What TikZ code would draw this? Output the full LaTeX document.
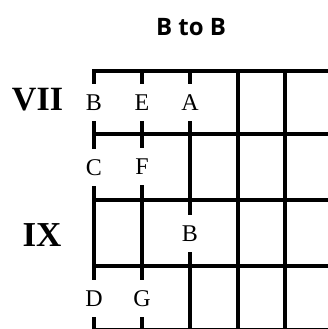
\documentclass[tikz,border=0pt]{standalone}
\usepackage{fontspec}
\setmainfont{Liberation Serif}
\newfontfamily\titlefont{Open Sans}
\begin{document}
\begin{tikzpicture}[x=1pt,y=-1pt,
  gridline/.style={line width=4pt},
  lbl/.style={fill=white,inner sep=0pt,minimum height=37pt,minimum width=14pt,font=\fontsize{24}{24}\selectfont,text height=16pt,text depth=0pt},
  roman/.style={font=\fontsize{34}{34}\selectfont\bfseries,inner sep=0pt}]
\useasboundingbox (0,0) rectangle (328,329);
% horizontal lines
\foreach \y/\n in {71/h1,134/h2,200/h3,266/h4,330.3/h5}{
  \coordinate (\n l) at (92,\y);
  \coordinate (\n r) at (330,\y);
  \draw[gridline] (\n l) -- (\n r);
}
% vertical lines
\foreach \x/\n in {94/v1,142/v2,190/v3,238/v4,285/v5}{
  \coordinate (\n t) at (\x,69);
  \coordinate (\n b) at (\x,332);
  \draw[gridline] (\n t) -- (\n b);
}
% labels
\node[lbl] (lB1) at (94,102) {B};
\node[lbl] (lE) at (142,102) {E};
\node[lbl] (lA) at (190,102) {A};
\node[lbl] (lC) at (94,167) {C};
\node[lbl] (lF) at (142,166) {F};
\node[lbl] (lB2) at (190,233) {B};
\node[lbl] (lD) at (94,298) {D};
\node[lbl] (lG) at (142,298) {G};
% row names
\node[roman] (vii) at (37.5,100) {VII};
\node[roman,font=\fontsize{35}{35}\selectfont\bfseries] (ix) at (42,235) {IX};
% title
\node[font=\titlefont\bfseries\fontsize{24}{24}\selectfont,inner sep=0pt] (title) at (191,27.5) {B to B};
\end{tikzpicture}
\end{document}
